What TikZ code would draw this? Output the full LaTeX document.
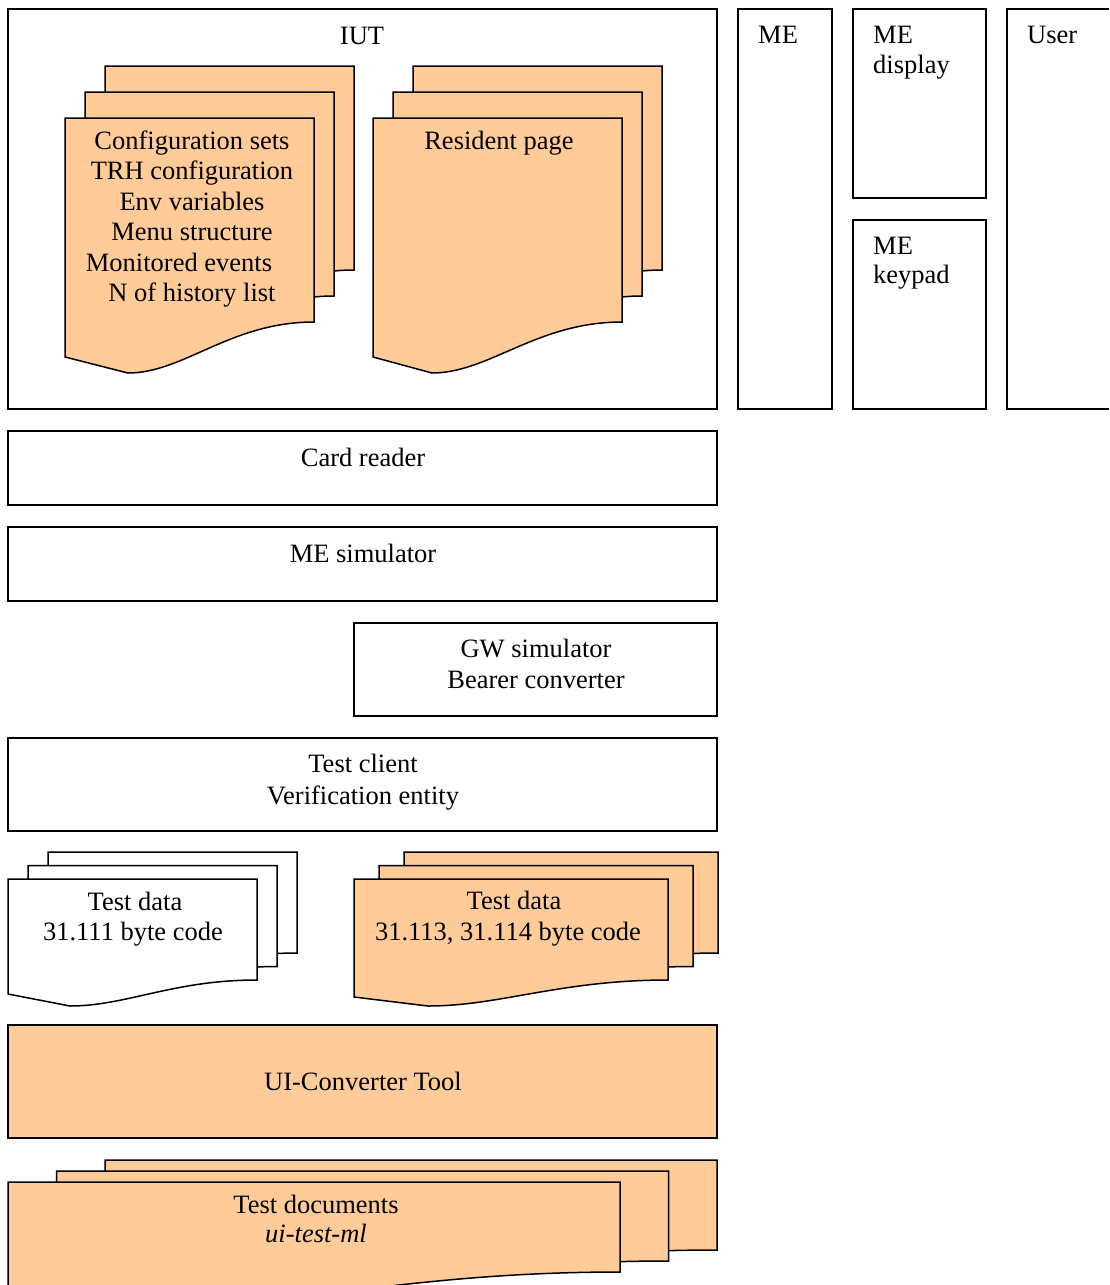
\documentclass[tikz,border=0pt]{standalone}
\usepackage{fontspec}
\setmainfont{Liberation Serif}
\definecolor{peach}{HTML}{FFCC99}
\tikzset{
  box/.style={draw=black,line width=1.5pt},
  sheet/.style={draw=black,line width=1.5pt,line join=miter},
  lbl/.style={anchor=base,inner sep=0pt,font=\fontsize{26.5}{30}\selectfont},
  lblw/.style={lbl,anchor=base west}
}
% #1 fill, #2 x0, #3 top, #4 x1, #5 right bottom, #6 left bottom, #7 x of lowest point, #8 lowest y
\newcommand{\docsheet}[8]{%
  \filldraw[sheet,fill=#1] (#2,#3) -- (#4,#3) -- (#4,#5)
    .. controls ({#4-0.45*(#4-#7)},#5) and ({#7+0.3*(#4-#7)},#8) .. (#7,#8)
    -- (#2,#6) -- cycle;}
\begin{document}
\begin{tikzpicture}[x=1pt,y=-1pt]
\clip (0,0) rectangle (1109,1285);
\fill[white] (0,0) rectangle (1109,1285);

% top row boxes
\draw[box] (8,9) rectangle (717,409);
\draw[box] (738,9) rectangle (832,409);
\draw[box] (853,9) rectangle (986,198);
\draw[box] (853,220) rectangle (986,409);
\draw[box] (1007,9) rectangle (1130,409);

% configuration stack
\begin{scope}[shift={(40,-52)}]\docsheet{peach}{65}{118}{314}{322}{357}{128}{373}\end{scope}
\begin{scope}[shift={(20,-26)}]\docsheet{peach}{65}{118}{314}{322}{357}{128}{373}\end{scope}
\docsheet{peach}{65}{118}{314}{322}{357}{128}{373}

% resident page stack
\begin{scope}[shift={(40,-52)}]\docsheet{peach}{373}{118}{622}{322}{357}{432}{373}\end{scope}
\begin{scope}[shift={(20,-26)}]\docsheet{peach}{373}{118}{622}{322}{357}{432}{373}\end{scope}
\docsheet{peach}{373}{118}{622}{322}{357}{432}{373}

% middle boxes
\draw[box] (8,431) rectangle (717,505);
\draw[box] (8,527) rectangle (717,601);
\draw[box] (354,623) rectangle (717,716);
\draw[box] (8,738) rectangle (717,831);

% test data left (white)
\begin{scope}[shift={(40,-27)}]\docsheet{white}{8}{879}{257}{980}{994}{70}{1006}\end{scope}
\begin{scope}[shift={(20,-13.5)}]\docsheet{white}{8}{879}{257}{980}{994}{70}{1006}\end{scope}
\docsheet{white}{8}{879}{257}{980}{994}{70}{1006}

% test data right (peach)
\begin{scope}[shift={(50,-27)}]\docsheet{peach}{354}{879}{668}{980}{997}{428}{1006}\end{scope}
\begin{scope}[shift={(25,-13.5)}]\docsheet{peach}{354}{879}{668}{980}{997}{428}{1006}\end{scope}
\docsheet{peach}{354}{879}{668}{980}{997}{428}{1006}

% UI converter
\filldraw[box,fill=peach] (8,1025) rectangle (717,1138);

% test documents
\begin{scope}[shift={(97,-22)}]\docsheet{peach}{8}{1182}{620}{1272}{1296}{160}{1306}\end{scope}
\begin{scope}[shift={(48.5,-11)}]\docsheet{peach}{8}{1182}{620}{1272}{1296}{160}{1306}\end{scope}
\docsheet{peach}{8}{1182}{620}{1272}{1296}{160}{1306}

% labels
\node[lbl] (iut) at (362,44) {IUT};
\node[lblw] (me) at (758,43) {ME};
\node[lblw] (medA) at (873,43) {ME};
\node[lblw] (medB) at (873,73) {display};
\node[lblw] (mekA) at (873,254) {ME};
\node[lblw] (mekB) at (873,283) {keypad};
\node[lblw] (user) at (1027,43) {User};

\node[lbl] (cfgA) at (192,149) {Configuration sets};
\node[lbl] (cfgB) at (192,179) {TRH configuration};
\node[lbl] (cfgC) at (192,210) {Env variables};
\node[lbl] (cfgD) at (192,240) {Menu structure};
\node[lbl] (cfgE) at (179,271) {Monitored events};
\node[lbl] (cfgF) at (192,301) {N of history list};
\node[lbl] (res) at (499,149) {Resident page};

\node[lbl] (card) at (363,466) {Card reader};
\node[lbl] (mesim) at (363,562) {ME simulator};
\node[lbl] (gwA) at (536,657) {GW simulator};
\node[lbl] (gwB) at (536,688) {Bearer converter};
\node[lbl] (tcA) at (363,772) {Test client};
\node[lbl] (tcB) at (363,804) {Verification entity};

\node[lbl] (tdlA) at (135,910) {Test data};
\node[lbl] (tdlB) at (133,940) {31.111 byte code};
\node[lbl] (tdrA) at (514,909) {Test data};
\node[lbl] (tdrB) at (508,940) {31.113, 31.114 byte code};

\node[lbl] (uic) at (363,1090) {UI-Converter Tool};
\node[lbl] (tdocA) at (316,1213) {Test documents};
\node[lbl] (tdocB) at (316,1242) {\itshape ui-test-ml};
\end{tikzpicture}
\end{document}
